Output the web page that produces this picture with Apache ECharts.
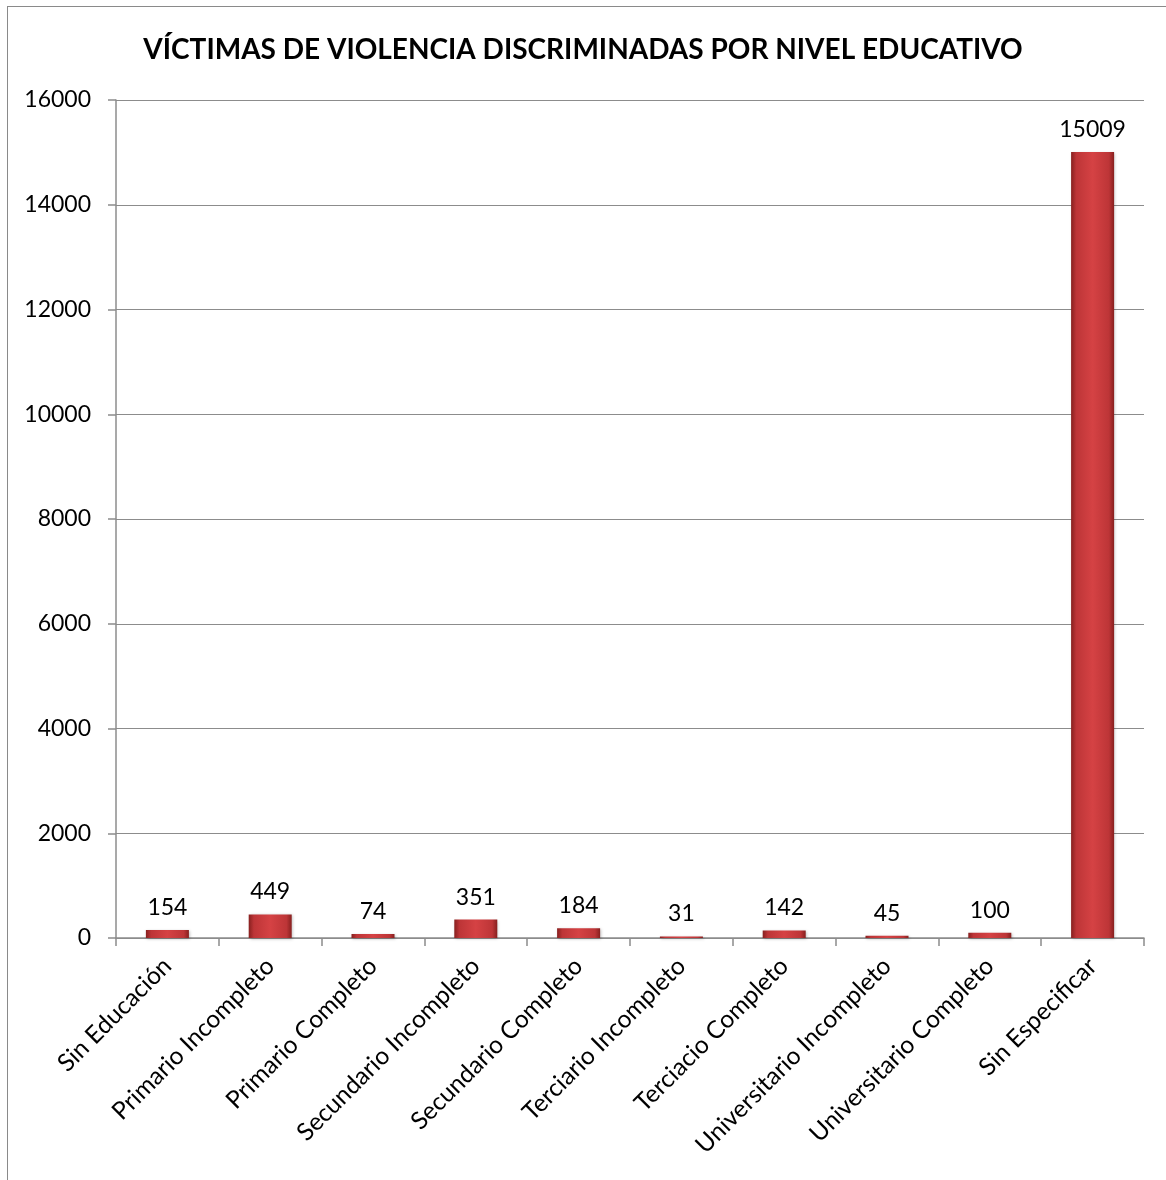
<!DOCTYPE html>
<html><head><meta charset="utf-8">
<script src="https://cdn.jsdelivr.net/npm/echarts@6/dist/echarts.min.js"></script>
<style>
html,body{margin:0;padding:0;background:#fff;}
#frame{position:absolute;left:7px;top:6px;width:1170px;height:1190px;border:1.5px solid #8a8a8a;box-sizing:border-box;}
#chart{position:absolute;left:0;top:0;width:1166px;height:1180px;}
</style></head>
<body>
<div id="frame"></div>
<div id="chart"></div>
<script>
const categories = ["Sin Educación","Primario Incompleto","Primario Completo","Secundario Incompleto","Secundario Completo","Terciario Incompleto","Terciacio Completo","Universitario Incompleto","Universitario Completo","Sin Especificar"];
const values = [154,449,74,351,184,31,142,45,100,15009];
const yTicks = {min:0, max:16000, interval:2000};
const titleText = "VÍCTIMAS DE VIOLENCIA DISCRIMINADAS POR NIVEL EDUCATIVO";

const chart = echarts.init(document.getElementById('chart'), null, {renderer:'canvas'});
const font = "Lato, 'Open Sans', sans-serif";
chart.setOption({
  animation:false,
  title:{text:titleText,left:'center',top:31,textStyle:{fontFamily:font,fontSize:28,fontWeight:'bold',color:'#000'}},
  grid:{left:116,right:22,top:100,bottom:242},
  xAxis:{type:'category',data:categories,boundaryGap:true,
    axisLine:{lineStyle:{color:'#8c8c8c',width:1.5}},
    axisTick:{show:true,length:8,alignWithLabel:false,lineStyle:{color:'#8c8c8c',width:1.5}},
    axisLabel:{rotate:45,interval:0,margin:24,fontFamily:font,fontSize:24.5,color:'#000'}},
  yAxis:{type:'value',min:yTicks.min,max:yTicks.max,interval:yTicks.interval,
    axisLine:{show:true,lineStyle:{color:'#8c8c8c',width:1.5}},
    axisTick:{show:true,length:8,lineStyle:{color:'#8c8c8c',width:1.5}},
    splitLine:{lineStyle:{color:'#8c8c8c',width:1.2}},
    axisLabel:{margin:25,fontFamily:font,fontSize:23,color:'#000',formatter:v=>String(v)}},
  series:[{type:'bar',data:values,barWidth:43,
    itemStyle:{color:new echarts.graphic.LinearGradient(0,0,1,0,[
      {offset:0,color:'#87201f'},{offset:0.12,color:'#bd3537'},{offset:0.5,color:'#d54244'},{offset:0.88,color:'#bd3537'},{offset:1,color:'#87201f'}]),
      shadowColor:'rgba(0,0,0,0.25)',shadowBlur:3,shadowOffsetX:1,shadowOffsetY:1},
    label:{show:true,position:'top',distance:11,fontFamily:font,fontSize:23,color:'#000'}}]
});
</script>
</body></html>
